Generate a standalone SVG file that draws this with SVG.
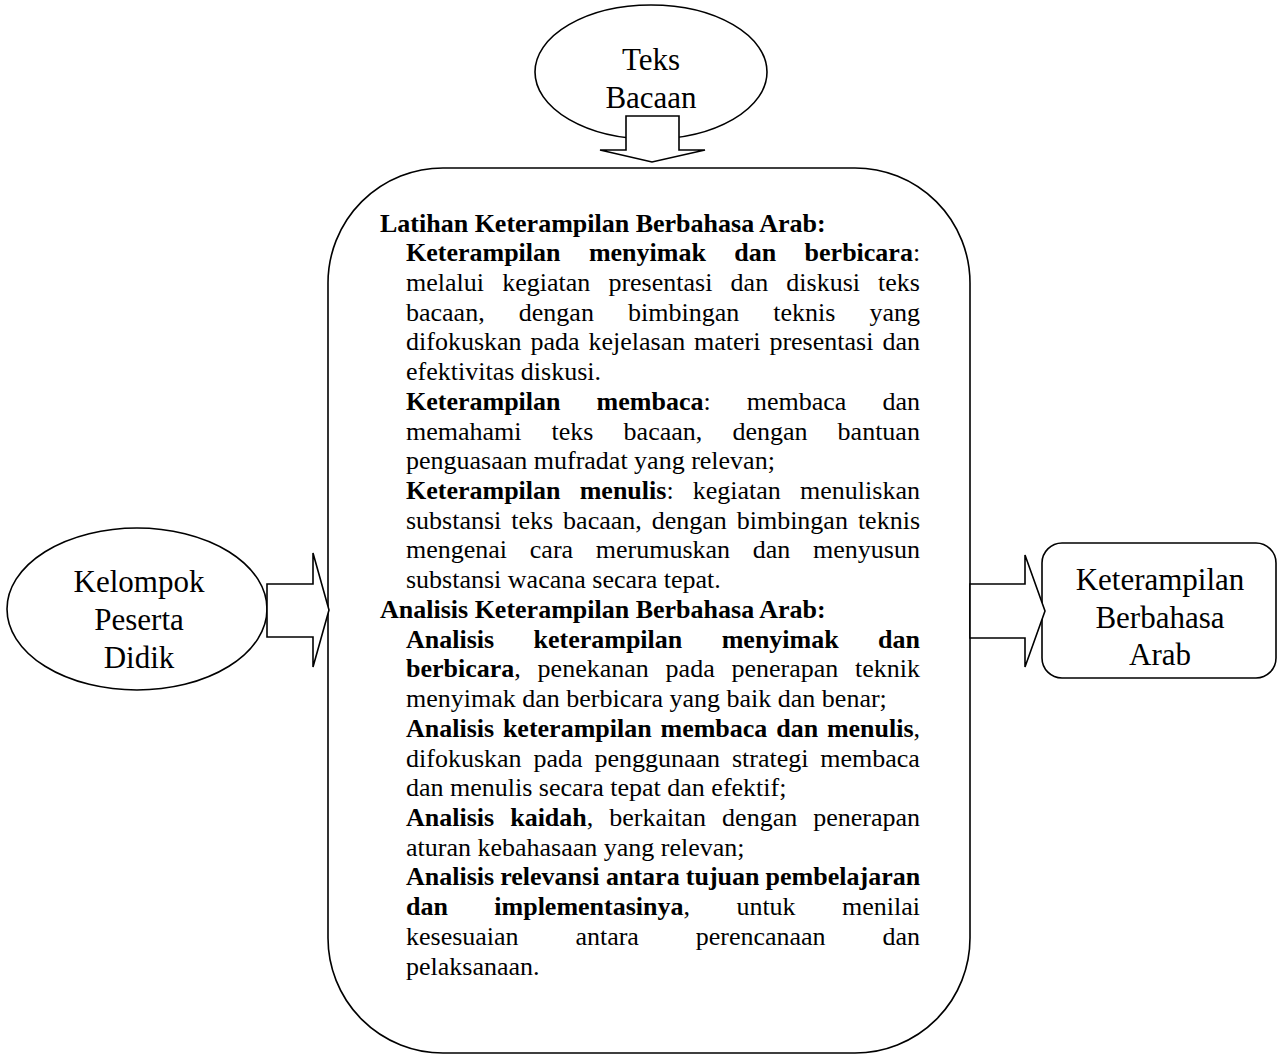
<svg xmlns="http://www.w3.org/2000/svg" width="1277" height="1055" viewBox="0 0 1277 1055">
<style>
.shape{fill:#fff;stroke:#000;stroke-width:1.6}
.lbl{font-family:"Liberation Serif",serif;font-size:31px;fill:#000;text-anchor:middle}
.t{font-family:"Liberation Serif",serif;font-size:26px;fill:#000}
.b{font-weight:bold}
</style>
<rect width="1277" height="1055" fill="#fff"/>
<g id="node-teks-bacaan">
<ellipse class="shape" cx="651" cy="72" rx="116" ry="67"/>
<text class="lbl" x="651" y="70">Teks</text>
<text class="lbl" x="651" y="108">Bacaan</text>
</g>
<g id="node-kelompok">
<ellipse class="shape" cx="137" cy="609" rx="130" ry="81"/>
<text class="lbl" x="139" y="592">Kelompok</text>
<text class="lbl" x="139" y="630">Peserta</text>
<text class="lbl" x="139" y="668">Didik</text>
</g>
<g id="node-keterampilan">
<rect class="shape" x="1042" y="543" width="234" height="135" rx="20" ry="20"/>
<text class="lbl" x="1160" y="590">Keterampilan</text>
<text class="lbl" x="1160" y="628">Berbahasa</text>
<text class="lbl" x="1160" y="665">Arab</text>
</g>
<g id="node-latihan">
<rect class="shape" x="328" y="168" width="642" height="885" rx="115" ry="115"/>
<text class="t b" x="380" y="231.5">Latihan Keterampilan Berbahasa Arab:</text>
<text class="t"><tspan class="b" x="406" y="261.2">Keterampilan</tspan><tspan class="b" x="588.9">menyimak</tspan><tspan class="b" x="734.3">dan</tspan><tspan class="b" x="804.6">berbicara</tspan>:</text>
<text class="t" y="290.9"><tspan x="406">melalui</tspan><tspan x="502.2">kegiatan</tspan><tspan x="608.4">presentasi</tspan><tspan x="730.6">dan</tspan><tspan x="786.3">diskusi</tspan><tspan x="878.1">teks</tspan></text>
<text class="t" y="320.7"><tspan x="406">bacaan,</tspan><tspan x="518.8">dengan</tspan><tspan x="628">bimbingan</tspan><tspan x="773.3">teknis</tspan><tspan x="869.5">yang</tspan></text>
<text class="t" y="350.4"><tspan x="406">difokuskan</tspan><tspan x="530.4">pada</tspan><tspan x="588.5">kejelasan</tspan><tspan x="694.1">materi</tspan><tspan x="769.4">presentasi</tspan><tspan x="882.4">dan</tspan></text>
<text class="t" x="406" y="380.1">efektivitas diskusi.</text>
<text class="t" y="409.8"><tspan class="b" x="406">Keterampilan</tspan><tspan class="b" x="596.6">membaca</tspan>:<tspan x="746.8">membaca</tspan><tspan x="882.5">dan</tspan></text>
<text class="t" y="439.5"><tspan x="406">memahami</tspan><tspan x="551.6">teks</tspan><tspan x="623.6">bacaan,</tspan><tspan x="732.4">dengan</tspan><tspan x="837.6">bantuan</tspan></text>
<text class="t" x="406" y="469.3">penguasaan mufradat yang relevan;</text>
<text class="t" y="499"><tspan class="b" x="406">Keterampilan</tspan><tspan class="b" x="579.7">menulis</tspan>:<tspan x="692.8">kegiatan</tspan><tspan x="800.1">menuliskan</tspan></text>
<text class="t" y="528.7"><tspan x="406">substansi</tspan><tspan x="511.2">teks</tspan><tspan x="563.1">bacaan,</tspan><tspan x="651.7">dengan</tspan><tspan x="736.7">bimbingan</tspan><tspan x="857.9">teknis</tspan></text>
<text class="t" y="558.4"><tspan x="406">mengenai</tspan><tspan x="529.8">cara</tspan><tspan x="595.8">merumuskan</tspan><tspan x="752.8">dan</tspan><tspan x="813">menyusun</tspan></text>
<text class="t" x="406" y="588.1">substansi wacana secara tepat.</text>
<text class="t b" x="380" y="617.9">Analisis Keterampilan Berbahasa Arab:</text>
<text class="t b" y="647.6"><tspan x="406">Analisis</tspan><tspan x="533.5">keterampilan</tspan><tspan x="721.7">menyimak</tspan><tspan x="878.1">dan</tspan></text>
<text class="t" y="677.3"><tspan class="b" x="406">berbicara</tspan>,<tspan x="537.6">penekanan</tspan><tspan x="665.6">pada</tspan><tspan x="731.5">penerapan</tspan><tspan x="855.1">teknik</tspan></text>
<text class="t" x="406" y="707">menyimak dan berbicara yang baik dan benar;</text>
<text class="t" y="736.7"><tspan class="b" x="406">Analisis</tspan><tspan class="b" x="502.9">keterampilan</tspan><tspan class="b" x="660.5">membaca</tspan><tspan class="b" x="776.2">dan</tspan><tspan class="b" x="826.9">menulis</tspan>,</text>
<text class="t" y="766.5"><tspan x="406">difokuskan</tspan><tspan x="533.4">pada</tspan><tspan x="594.4">penggunaan</tspan><tspan x="731.9">strategi</tspan><tspan x="820.3">membaca</tspan></text>
<text class="t" x="406" y="796.2">dan menulis secara tepat dan efektif;</text>
<text class="t" y="825.9"><tspan class="b" x="406">Analisis</tspan><tspan class="b" x="510.2">kaidah</tspan>,<tspan x="609.3">berkaitan</tspan><tspan x="722.1">dengan</tspan><tspan x="813.2">penerapan</tspan></text>
<text class="t" x="406" y="855.6">aturan kebahasaan yang relevan;</text>
<text class="t b" y="885.3"><tspan x="406">Analisis</tspan><tspan x="500.2">relevansi</tspan><tspan x="606">antara</tspan><tspan x="685.8">tujuan</tspan><tspan x="765.6">pembelajaran</tspan></text>
<text class="t" y="915.1"><tspan class="b" x="406">dan</tspan><tspan class="b" x="494.3">implementasinya</tspan>,<tspan x="736.4">untuk</tspan><tspan x="842">menilai</tspan></text>
<text class="t" y="944.8"><tspan x="406">kesesuaian</tspan><tspan x="575.4">antara</tspan><tspan x="695.7">perencanaan</tspan><tspan x="882.4">dan</tspan></text>
<text class="t" x="406" y="974.5">pelaksanaan.</text>
</g>
<g id="connectors">
<polygon class="shape" points="626,116 679,116 679,150 705,150 652,162 600,150 626,150"/>
<polygon class="shape" points="267,584 313,584 313,553 329,610 313,667 313,637 267,637"/>
<polygon class="shape" points="970,584 1025,584 1025,555 1045,611 1025,667 1025,638 970,638"/>
</g>
</svg>
